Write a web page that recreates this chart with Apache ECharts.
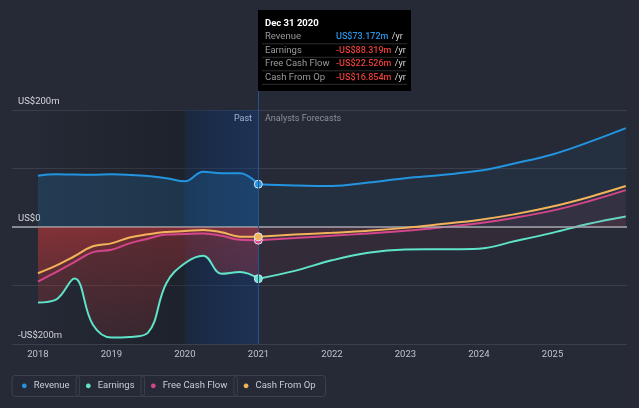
<!DOCTYPE html>
<html>
<head>
<meta charset="utf-8">
<script src="https://cdn.jsdelivr.net/npm/echarts@6/dist/echarts.min.js"></script>
<style>
html,body{margin:0;padding:0;background:#252a36;}
#c{width:639px;height:408px;}
</style>
</head>
<body>
<div id="c"></div>
<script>
// ---- data (US$ m) ----
const pastDates = ['2018-01-01','2018-04-01','2018-07-01','2018-10-01','2019-01-01','2019-04-01','2019-07-01','2019-10-01','2020-01-01','2020-04-01','2020-07-01','2020-10-01','2020-12-31'];
const revenuePast  = [87.7, 90.2, 89.6, 89.4, 90.0, 89.1, 87.2, 83.5, 78.0, 94.5, 92.0, 92.0, 73.172];
const earningsPast = [-129, -124, -88, -167, -189, -188, -181, -96, -62, -49, -80, -77, -88.319];
const fcfPast      = [-93.5, -77, -60, -43, -39, -28, -20, -13, -12, -11, -15, -22, -22.526];
const cfoPast      = [-79, -66, -50, -33, -28, -18, -12.5, -8.5, -7, -5, -9, -16.5, -16.854];

const forecastDates = ['2020-12-31','2021-06-30','2021-12-31','2022-06-30','2022-12-31','2023-06-30','2023-12-31','2024-06-30','2024-12-31','2025-06-30','2025-12-31'];
const revenueFc  = [73.172, 71, 70, 76, 83.5, 89, 96, 109, 124, 145, 169];
const earningsFc = [-88.319, -75, -57, -44, -38.5, -38, -37, -24, -10, 5.5, 18];
const fcfFc      = [-22.526, -19, -15, -11, -6.5, -0.5, 6.5, 16, 28, 44, 63];
const cfoFc      = [-16.854, -13, -10, -6.5, -1.5, 5, 12, 22, 35, 51, 70];

const seriesNames = ['Revenue', 'Earnings', 'Free Cash Flow', 'Cash From Op'];
const seriesColors = ['#2394df', '#5fe3c9', '#d3468c', '#f2b35b'];
const xTickYears = [2018, 2019, 2020, 2021, 2022, 2023, 2024, 2025];
const yTickLabels = {'200': 'US$200m', '0': 'US$0', '-200': '-US$200m'};
const tooltipDate = 'Dec 31 2020';
const axisMin = '2017-08-25', axisMax = '2026-01-06';
const pastEnd = '2020-12-31';

// ---- helpers ----
const FONT = 'Roboto, sans-serif';
function pastData(vals, color) {
  const last = vals.length - 1;
  return pastDates.map((d, i) => i === last
    ? {value: [d, vals[i]], symbol: 'circle', symbolSize: 8,
       itemStyle: {color: color, borderColor: '#dfe7f2', borderWidth: 1}}
    : [d, vals[i]]);
}
function fcData(vals) { return forecastDates.map((d, i) => [d, vals[i]]); }
function vgrad(top, bottom) {
  return new echarts.graphic.LinearGradient(0, 0, 0, 1, [{offset: 0, color: top}, {offset: 1, color: bottom}]);
}
function fmt(v) { return (v < 0 ? '-' : '') + 'US$' + Math.abs(v).toFixed(3) + 'm'; }

const pastSets = [revenuePast, earningsPast, fcfPast, cfoPast];
const fcSets = [revenueFc, earningsFc, fcfFc, cfoFc];
const pastAreas = [
  'rgba(35,148,223,0.26)',
  vgrad('rgba(205,55,55,0.52)', 'rgba(205,55,55,0.20)'),
  vgrad('rgba(205,55,60,0.22)', 'rgba(205,55,60,0.10)'),
  vgrad('rgba(210,60,55,0.22)', 'rgba(210,60,55,0.10)')
];
const fcAreas = [
  'rgba(35,148,223,0.09)',
  'rgba(190,60,85,0.14)',
  'rgba(200,70,110,0.08)',
  'rgba(200,80,90,0.06)'
];

const series = [];
seriesNames.forEach((name, k) => {
  const s = {
    name: name, type: 'line', smooth: 0.4, symbol: 'none', showSymbol: true,
    color: seriesColors[k], lineStyle: {width: 2, color: seriesColors[k]},
    areaStyle: {color: pastAreas[k], origin: 0},
    data: pastData(pastSets[k], seriesColors[k]), z: 3 + k, silent: true
  };
  if (k === 0) {
    s.markArea = {
      silent: true,
      data: [
        [{xAxis: '2018-01-01', itemStyle: {color: new echarts.graphic.LinearGradient(0, 0, 1, 0, [
            {offset: 0, color: 'rgba(0,0,0,0.03)'}, {offset: 1, color: 'rgba(0,0,0,0.2)'}])}},
         {xAxis: '2020-01-01'}],
        [{xAxis: '2020-01-01', itemStyle: {color: new echarts.graphic.LinearGradient(0, 0, 1, 0, [
            {offset: 0, color: 'rgba(10,35,75,0.40)'}, {offset: 1, color: 'rgba(10,65,150,0.32)'}])}},
         {xAxis: pastEnd}]
      ]
    };
    s.markLine = {
      silent: true, symbol: 'none', label: {show: false},
      data: [
        {yAxis: 0, lineStyle: {color: '#a3a7ae', width: 1.5, type: 'solid'}},
        {xAxis: pastEnd, lineStyle: {color: '#24548f', width: 1, type: 'solid'}}
      ]
    };
  }
  series.push(s);
  series.push({
    name: name, type: 'line', smooth: 0.4, symbol: 'none', showSymbol: false,
    color: seriesColors[k], lineStyle: {width: 2, color: seriesColors[k]},
    areaStyle: {color: fcAreas[k], origin: 0},
    data: fcData(fcSets[k]), z: 2 + k, silent: true
  });
});

// tooltip-like box
const rowYs = [37, 50.5, 64, 77.5];
const valueColor = v => v < 0 ? '#ea3f3b' : '#2a93e3';
const tipVals = [revenuePast, earningsPast, fcfPast, cfoPast].map(a => a[a.length - 1]);
const graphic = [
  {type: 'rect', shape: {x: 258, y: 10, width: 153, height: 81}, style: {fill: '#000'}, silent: true},
  {type: 'line', shape: {x1: 258.5, y1: 91, x2: 258.5, y2: 110}, style: {stroke: '#24548f', lineWidth: 1}, silent: true},
  {type: 'text', x: 265, y: 23.5, style: {text: tooltipDate, fill: '#ffffff', font: 'bold 9.5px ' + FONT, verticalAlign: 'middle'}},
  {type: 'text', x: 252, y: 119, style: {text: 'Past', fill: '#e6e8ec', font: '9px ' + FONT, align: 'right', verticalAlign: 'middle'}},
  {type: 'text', x: 265, y: 119, style: {text: 'Analysts Forecasts', fill: '#8b909a', font: '9px ' + FONT, verticalAlign: 'middle'}}
];
seriesNames.forEach((name, i) => {
  graphic.push({type: 'line', shape: {x1: 262, y1: rowYs[i] + 6.8, x2: 407, y2: rowYs[i] + 6.8}, style: {stroke: '#2e2e2e', lineWidth: 1}, silent: true});
  graphic.push({type: 'text', x: 265, y: rowYs[i], style: {text: name, fill: '#9a9a9a', font: '9.5px ' + FONT, verticalAlign: 'middle'}});
  graphic.push({type: 'text', x: 336, y: rowYs[i], style: {
    text: '{v|' + fmt(tipVals[i]) + '} {u|/yr}', verticalAlign: 'middle',
    rich: {v: {fill: valueColor(tipVals[i]), font: '500 9px ' + FONT}, u: {fill: '#d8d8d8', font: '9px ' + FONT}}
  }});
});

const richKeys = ['a', 'b', 'c', 'd'];
const legendRich = {};
seriesNames.forEach((n, i) => { legendRich[richKeys[i]] = {color: seriesColors[i], fontSize: 11, padding: [0, 6, 0, 0]}; });

const chart = echarts.init(document.getElementById('c'), null, {renderer: 'canvas'});
chart.setOption({
  backgroundColor: '#252a36',
  animation: false,
  textStyle: {fontFamily: FONT},
  grid: {left: 12, right: 12, top: 110, bottom: 64, containLabel: false},
  xAxis: {
    type: 'time', min: axisMin, max: axisMax,
    splitNumber: 8,
    axisLine: {show: false}, axisTick: {show: false}, splitLine: {show: false},
    axisLabel: {
      color: '#bfc3cb', fontSize: 9.5, margin: 6, showMinLabel: false, showMaxLabel: false,
      formatter: function (v) {
        const d = new Date(v);
        return (d.getMonth() === 0 && d.getDate() === 1 && xTickYears.indexOf(d.getFullYear()) >= 0) ? String(d.getFullYear()) : '';
      }
    }
  },
  yAxis: {
    type: 'value', min: -200, max: 200, interval: 100,
    axisLine: {show: false}, axisTick: {show: false},
    splitLine: {lineStyle: {color: '#3a3f4b', width: 1}},
    axisLabel: {
      inside: true, margin: 6, color: '#d6d8dc', fontSize: 9.5, verticalAlign: 'bottom', padding: [0, 0, 3, 0],
      formatter: v => yTickLabels[String(v)] || ''
    }
  },
  legend: {
    data: seriesNames, left: 2, top: 370, itemGap: -9, icon: 'circle', itemWidth: 0, itemHeight: 0,
    selectedMode: false,
    formatter: name => '{' + richKeys[seriesNames.indexOf(name)] + '|●}' + name,
    textStyle: {
      color: '#c8ccd4', fontSize: 9.5, borderColor: '#3b414e', borderWidth: 1, borderRadius: 3,
      padding: [5, 10, 5, 9], rich: legendRich
    }
  },
  graphic: graphic,
  series: series
});
</script>
</body>
</html>
